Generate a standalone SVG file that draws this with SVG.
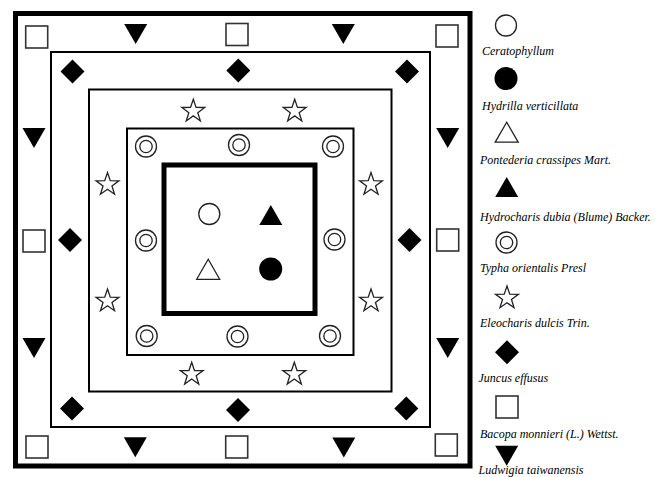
<svg xmlns="http://www.w3.org/2000/svg" xmlns:xlink="http://www.w3.org/1999/xlink" width="661" height="477" viewBox="0 0 661 477">
<style>
.thick{fill:none;stroke:#000;stroke-width:5}
.thin{fill:none;stroke:#000;stroke-width:2}
.open{fill:#fff;stroke:#222;stroke-width:1.3}
.sq{fill:#fff;stroke:#333;stroke-width:1.6}
.fill{fill:#000}
.lbl{font-family:"Liberation Serif","Times New Roman",serif;font-style:italic;font-size:12px;fill:#000}
</style>
<defs>
<path id="star" class="open" d="M0,-12 L2.76,-3.8 L11.41,-3.71 L4.47,1.45 L7.05,9.71 L0,4.7 L-7.05,9.71 L-4.47,1.45 L-11.41,-3.71 L-2.76,-3.8 Z"/>
<path id="tdown" class="fill" d="M-11.5,-10 L11.5,-10 L0,10 Z"/>
<path id="tup" class="fill" d="M-11.5,10 L11.5,10 L0,-10 Z"/>
<path id="tupo" class="open" d="M-11.5,10 L11.5,10 L0,-10 Z"/>
<path id="dia" class="fill" d="M0,-12 L12,0 L0,12 L-12,0 Z"/>
<rect id="sq" class="sq" x="-11" y="-11" width="22" height="22"/>
<g id="dbl"><circle class="open" r="10.5"/><circle class="open" r="6.2"/></g>
<circle id="oc" class="open" r="10.5"/>
<circle id="fc" class="fill" r="11.5"/>
</defs>
<rect width="661" height="477" fill="#fff"/>

<g id="frames">
<rect class="thick" x="15.5" y="13.5" width="454.5" height="452.5"/>
<rect class="thin" x="51" y="52" width="379" height="375"/>
<rect class="thin" x="89" y="89.5" width="302.5" height="302"/>
<rect class="thin" x="127" y="128.5" width="226.5" height="226.5"/>
<rect class="thick" x="164" y="165" width="151" height="148.5"/>
</g>

<g id="bacopa">
<use xlink:href="#sq" x="36.7" y="37"/>
<use xlink:href="#sq" x="237" y="34.5"/>
<use xlink:href="#sq" x="447" y="36"/>
<use xlink:href="#sq" x="34" y="241"/>
<use xlink:href="#sq" x="447.7" y="240"/>
<use xlink:href="#sq" x="37" y="447"/>
<use xlink:href="#sq" x="236.7" y="447"/>
<use xlink:href="#sq" x="446.3" y="445"/>
</g>
<g id="ludwigia">
<use xlink:href="#tdown" x="135.7" y="34"/>
<use xlink:href="#tdown" x="343.3" y="34"/>
<use xlink:href="#tdown" x="34" y="138"/>
<use xlink:href="#tdown" x="34" y="348"/>
<use xlink:href="#tdown" x="447.7" y="138"/>
<use xlink:href="#tdown" x="447.7" y="348"/>
<use xlink:href="#tdown" x="135.3" y="447.3"/>
<use xlink:href="#tdown" x="343.8" y="447.5"/>
</g>
<g id="juncus">
<use xlink:href="#dia" x="72.5" y="71.5"/>
<use xlink:href="#dia" x="238.3" y="70.5"/>
<use xlink:href="#dia" x="407" y="71.5"/>
<use xlink:href="#dia" x="70" y="240"/>
<use xlink:href="#dia" x="409.5" y="240"/>
<use xlink:href="#dia" x="72" y="408.5"/>
<use xlink:href="#dia" x="238" y="410"/>
<use xlink:href="#dia" x="406.3" y="408.5"/>
</g>
<g id="eleocharis">
<use xlink:href="#star" x="193.3" y="111.2"/>
<use xlink:href="#star" x="294.7" y="111.2"/>
<use xlink:href="#star" x="107.5" y="184.5"/>
<use xlink:href="#star" x="371" y="184.5"/>
<use xlink:href="#star" x="107.5" y="301"/>
<use xlink:href="#star" x="371" y="301"/>
<use xlink:href="#star" x="191.7" y="374.3"/>
<use xlink:href="#star" x="294.3" y="374.3"/>
</g>
<g id="typha">
<use xlink:href="#dbl" x="146" y="146.5"/>
<use xlink:href="#dbl" x="239" y="145"/>
<use xlink:href="#dbl" x="333" y="146.5"/>
<use xlink:href="#dbl" x="146" y="240.5"/>
<use xlink:href="#dbl" x="334.5" y="239.5"/>
<use xlink:href="#dbl" x="146.7" y="336"/>
<use xlink:href="#dbl" x="237.5" y="336.5"/>
<use xlink:href="#dbl" x="330" y="336"/>
</g>
<g id="centre">
<use xlink:href="#oc" x="209.3" y="214"/>
<use xlink:href="#tup" x="270.8" y="215"/>
<use xlink:href="#tupo" x="208.2" y="269.3"/>
<use xlink:href="#fc" x="270.7" y="269"/>
</g>

<g id="legend">
<use xlink:href="#oc" x="506" y="25.5"/>
<text class="lbl" x="482" y="55">Ceratophyllum</text>
<use xlink:href="#fc" x="506" y="78.5"/>
<text class="lbl" x="482" y="109.5">Hydrilla verticillata</text>
<use xlink:href="#tupo" x="506.7" y="132.2"/>
<text class="lbl" x="480" y="164">Pontederia crassipes Mart.</text>
<use xlink:href="#tup" x="506.7" y="187"/>
<text class="lbl" x="480" y="221">Hydrocharis dubia (Blume) Backer.</text>
<use xlink:href="#dbl" x="506.5" y="242.5"/>
<text class="lbl" x="480" y="272">Typha orientalis Presl</text>
<use xlink:href="#star" x="507" y="298"/>
<text class="lbl" x="480" y="327">Eleocharis dulcis Trin.</text>
<use xlink:href="#dia" x="507" y="352.3"/>
<text class="lbl" x="478.5" y="381.5">Juncus effusus</text>
<use xlink:href="#sq" x="507" y="407"/>
<text class="lbl" x="480" y="437.5">Bacopa monnieri (L.) Wettst.</text>
<use xlink:href="#tdown" x="506.7" y="455.8"/>
<text class="lbl" x="478.5" y="473.5">Ludwigia taiwanensis</text>
</g>
</svg>
